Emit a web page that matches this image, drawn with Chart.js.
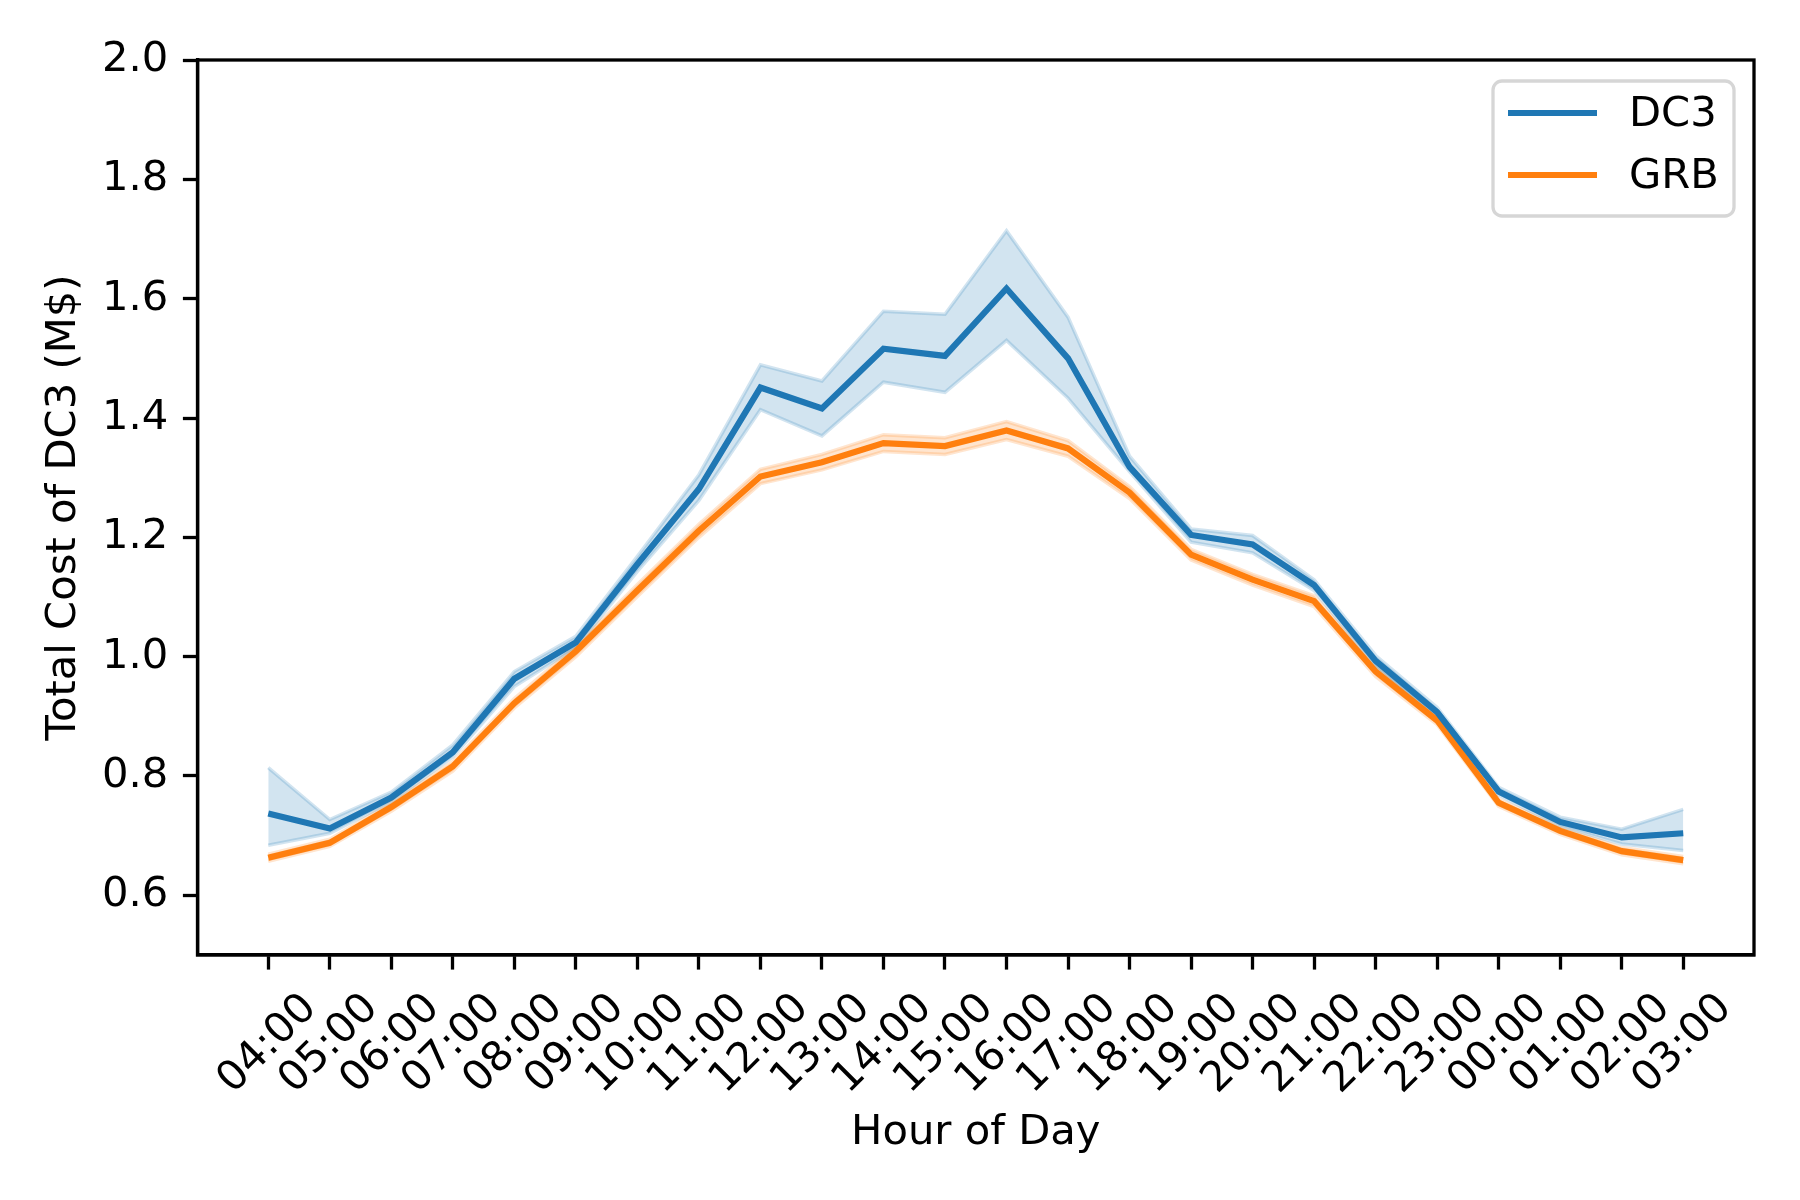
<!DOCTYPE html>
<html>
<head>
<meta charset="utf-8">
<script src="https://cdn.jsdelivr.net/npm/chart.js@4/dist/chart.umd.min.js"></script>
<style>
  html, body { margin: 0; padding: 0; background: #fff; }
  #wrap { width: 1800px; height: 1200px; }
</style>
</head>
<body>
<div id="wrap"><canvas id="chart" width="1800" height="1200"></canvas></div>
<script>
const hours = ['04:00', '05:00', '06:00', '07:00', '08:00', '09:00', '10:00', '11:00',
               '12:00', '13:00', '14:00', '15:00', '16:00', '17:00', '18:00', '19:00',
               '20:00', '21:00', '22:00', '23:00', '00:00', '01:00', '02:00', '03:00'];

const dc3Mean = [0.737, 0.712, 0.764, 0.840, 0.963, 1.024, 1.155, 1.281, 1.451, 1.416, 1.516, 1.504,
                 1.617, 1.500, 1.318, 1.204, 1.188, 1.120, 0.993, 0.907, 0.774, 0.723, 0.697, 0.704];
const dc3Low  = [0.684, 0.704, 0.757, 0.832, 0.950, 1.015, 1.143, 1.262, 1.414, 1.370, 1.460, 1.443,
                 1.530, 1.433, 1.310, 1.192, 1.174, 1.111, 0.983, 0.898, 0.768, 0.716, 0.686, 0.675];
const dc3High = [0.814, 0.727, 0.773, 0.852, 0.975, 1.034, 1.168, 1.305, 1.489, 1.462, 1.579, 1.574,
                 1.714, 1.569, 1.336, 1.214, 1.203, 1.129, 1.002, 0.915, 0.781, 0.731, 0.711, 0.744];

const grbMean = [0.663, 0.688, 0.748, 0.816, 0.922, 1.009, 1.111, 1.211, 1.302, 1.326, 1.358, 1.353,
                 1.379, 1.349, 1.275, 1.171, 1.129, 1.093, 0.975, 0.893, 0.755, 0.708, 0.674, 0.659];
const grbLow  = [0.657, 0.682, 0.741, 0.808, 0.914, 1.000, 1.101, 1.200, 1.290, 1.313, 1.344, 1.339,
                 1.364, 1.336, 1.265, 1.162, 1.120, 1.084, 0.967, 0.886, 0.749, 0.702, 0.668, 0.653];
const grbHigh = [0.669, 0.694, 0.755, 0.824, 0.930, 1.018, 1.121, 1.222, 1.314, 1.339, 1.372, 1.367,
                 1.394, 1.362, 1.285, 1.180, 1.138, 1.102, 0.983, 0.900, 0.761, 0.714, 0.680, 0.665];

const yTicks = [0.6, 0.8, 1.0, 1.2, 1.4, 1.6, 1.8, 2.0];

const BLUE   = '#1f77b4';
const ORANGE = '#ff7f0e';
const FONT   = 'DejaVu Sans';
const FS     = 41.7;

const pts = arr => arr.map((v, i) => ({ x: i, y: v }));

function band(arr, color, fill) {
  return {
    data: pts(arr), borderColor: color, borderWidth: 3.5, backgroundColor: color,
    pointRadius: 0, tension: 0, fill: fill, order: 2
  };
}

function line(label, arr, color) {
  return {
    label: label, data: pts(arr), borderColor: color, borderWidth: 6.2,
    pointRadius: 0, tension: 0, fill: false, order: 1, isMain: true
  };
}

// frame round the plot area (matplotlib spines)
const frame = {
  id: 'frame',
  afterDatasetsDraw(chart) {
    const { ctx, chartArea: a } = chart;
    ctx.save();
    ctx.strokeStyle = '#000';
    ctx.lineWidth = 3.3;
    ctx.strokeRect(a.left, a.top, a.right - a.left, a.bottom - a.top);
    ctx.restore();
  }
};

// legend in the upper right corner, like matplotlib's
const legendBox = {
  id: 'legendBox',
  afterDraw(chart) {
    const { ctx, chartArea: a } = chart;
    const items = chart.data.datasets.filter(d => d.isMain);
    const w = 241, h = 135;
    const x0 = a.right - 20 - w, y0 = a.top + 21;
    ctx.save();
    ctx.beginPath();
    ctx.roundRect(x0, y0, w, h, 9);
    ctx.fillStyle = 'rgba(255,255,255,0.8)';
    ctx.fill();
    ctx.strokeStyle = '#d6d6d6';
    ctx.lineWidth = 3.3;
    ctx.stroke();
    ctx.font = `${FS}px "${FONT}"`;
    ctx.textBaseline = 'middle';
    ctx.textAlign = 'left';
    items.forEach((d, i) => {
      const y = y0 + 32 + i * 62;
      ctx.strokeStyle = d.borderColor;
      ctx.lineWidth = 6.2;
      ctx.beginPath();
      ctx.moveTo(x0 + 15, y);
      ctx.lineTo(x0 + 104, y);
      ctx.stroke();
      ctx.fillStyle = '#000';
      ctx.fillText(d.label, x0 + 136, y + 2);
    });
    ctx.restore();
  }
};

new Chart(document.getElementById('chart'), {
  type: 'line',
  data: {
    datasets: [
      band(dc3High, 'rgba(31,119,180,0.2)', '+1'),
      band(dc3Low,  'rgba(31,119,180,0.2)', false),
      band(grbHigh, 'rgba(255,127,14,0.2)', '+1'),
      band(grbLow,  'rgba(255,127,14,0.2)', false),
      line('DC3', dc3Mean, BLUE),
      line('GRB', grbMean, ORANGE)
    ]
  },
  options: {
    responsive: false,
    animation: false,
    devicePixelRatio: 1,
    layout: { padding: { top: 60, right: 46, left: 0, bottom: 0 } },
    plugins: { legend: { display: false }, tooltip: { enabled: false } },
    scales: {
      x: {
        type: 'linear',
        min: -1.15,
        max: 24.15,
        afterFit: s => { s.height = 245; },
        afterBuildTicks: s => { s.ticks = hours.map((_, i) => ({ value: i })); },
        grid: { drawOnChartArea: false, drawTicks: true, tickLength: 14.6, tickWidth: 3.3, tickColor: '#000' },
        border: { display: true, color: '#000', width: 3.3 },
        ticks: {
          autoSkip: false,
          maxRotation: 45,
          minRotation: 45,
          padding: 14.6,
          labelOffset: 42,
          color: '#000',
          font: { family: FONT, size: FS },
          callback: v => hours[v] ?? ''
        },
        title: {
          display: true, text: 'Hour of Day', color: '#000',
          font: { family: FONT, size: FS }, padding: { top: 0, bottom: 42 }
        }
      },
      y: {
        min: 0.5,
        max: 2.0,
        afterFit: s => { s.width = 197.5; },
        afterBuildTicks: s => { s.ticks = yTicks.map(v => ({ value: v })); },
        grid: { drawOnChartArea: false, drawTicks: true, tickLength: 14.6, tickWidth: 3.3, tickColor: '#000' },
        border: { display: true, color: '#000', width: 3.3 },
        ticks: {
          padding: 14.6,
          color: '#000',
          font: { family: FONT, size: FS },
          callback: v => v.toFixed(1)
        },
        title: {
          display: true, text: 'Total Cost of DC3 (M$)', color: '#000',
          font: { family: FONT, size: FS }, padding: { top: 39, bottom: 0 }
        }
      }
    }
  },
  plugins: [frame, legendBox]
});
</script>
</body>
</html>
